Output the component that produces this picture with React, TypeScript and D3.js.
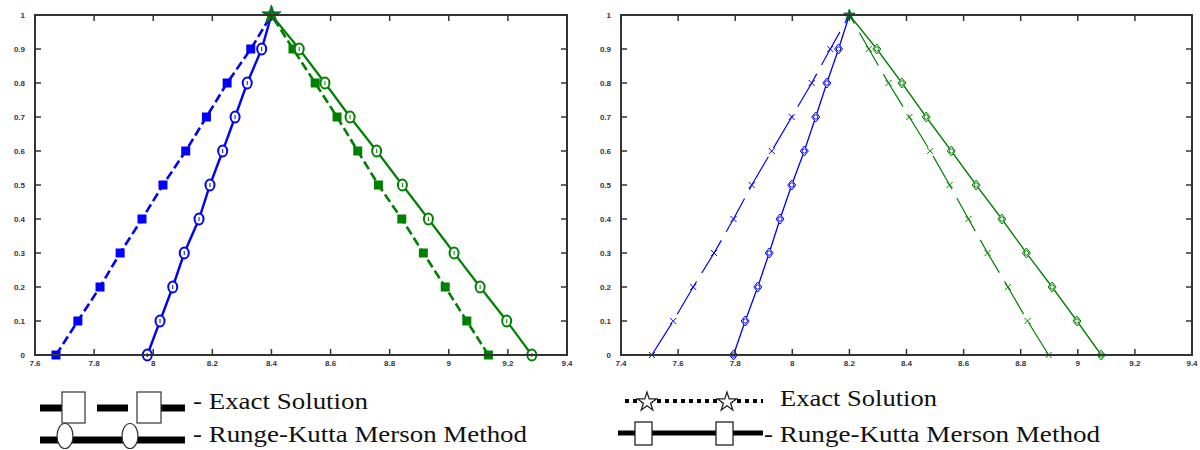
import * as d3 from 'd3'

// y levels shared by every curve (temperature / fraction axis)
const yLevels = [0, 0.1, 0.2, 0.3, 0.4, 0.5, 0.6, 0.7, 0.8, 0.9, 1]

// left panel, x values at each y level
const leftBlueExact = [7.671, 7.745, 7.82, 7.888, 7.962, 8.033, 8.11, 8.18, 8.25, 8.33, 8.4]
const leftBlueRK = [7.98, 8.023, 8.066, 8.105, 8.155, 8.192, 8.235, 8.277, 8.318, 8.367, 8.4]
const leftGreenExact = [9.134, 9.061, 8.988, 8.914, 8.841, 8.762, 8.692, 8.622, 8.548, 8.473, 8.4]
const leftGreenRK = [9.281, 9.196, 9.106, 9.018, 8.931, 8.843, 8.756, 8.666, 8.581, 8.494, 8.4]

// right panel
const rightBlueExact = [7.508, 7.583, 7.653, 7.726, 7.794, 7.858, 7.928, 7.998, 8.068, 8.133, 8.2]
const rightBlueRK = [7.794, 7.835, 7.879, 7.919, 7.957, 7.998, 8.042, 8.082, 8.121, 8.162, 8.2]
const rightGreenExact = [8.898, 8.824, 8.755, 8.684, 8.617, 8.551, 8.483, 8.41, 8.337, 8.268, 8.2]
const rightGreenRK = [9.082, 8.997, 8.91, 8.82, 8.734, 8.644, 8.557, 8.469, 8.384, 8.296, 8.2]

const leftDomain = [7.6, 9.4]
const rightDomain = [7.4, 9.4]

const legendLabels = ['Exact Solution', 'Runge-Kutta Merson Method']

const BLUE = '#0000ff'
const GREEN = '#008000'
const TOP = 15
const BOTTOM = 355

const fmt = d3.format('~g')

const Marker = ({ type, x, y, color }) => {
  if (type === 'square') {
    return <rect x={x - 4.5} y={y - 4.5} width={9} height={9} fill={color} />
  }
  if (type === 'circle') {
    return (
      <g>
        <ellipse cx={x} cy={y} rx={4.5} ry={5.5} fill="white" stroke={color} strokeWidth={2} />
        <line x1={x} y1={y - 2} x2={x} y2={y + 2} stroke={color} strokeWidth={1} />
      </g>
    )
  }
  if (type === 'cross') {
    return (
      <g stroke={color} strokeWidth={1}>
        <line x1={x - 3} y1={y - 3} x2={x + 3} y2={y + 3} />
        <line x1={x - 3} y1={y + 3} x2={x + 3} y2={y - 3} />
      </g>
    )
  }
  if (type === 'diamond') {
    return (
      <g fill="white" stroke={color} strokeWidth={1}>
        <path d={`M${x},${y - 5}L${x + 4},${y}L${x},${y + 5}L${x - 4},${y}Z`} />
        <circle cx={x} cy={y} r={2.2} />
      </g>
    )
  }
  return null
}

const Panel = ({ x0, x1, domain, series, peak }) => {
  const x = d3.scaleLinear().domain(domain).range([x0, x1])
  const y = d3.scaleLinear().domain([0, 1]).range([BOTTOM, TOP])
  const xTicks = x.ticks(10)
  const yTicks = y.ticks(10)
  const line = d3
    .line()
    .x((d) => x(d[0]))
    .y((d) => y(d[1]))

  return (
    <g>
      {series.map((s, i) => {
        const pts = s.values.map((v, j) => [v, yLevels[j]])
        return (
          <g key={i}>
            <path
              d={line(pts)}
              fill="none"
              stroke={s.color}
              strokeWidth={s.width}
              strokeDasharray={s.dash}
            />
            {pts.slice(0, -1).map((p, j) => (
              <Marker key={j} type={s.marker} x={x(p[0])} y={y(p[1])} color={s.color} />
            ))}
          </g>
        )
      })}
      <path
        d={d3.symbol(d3.symbolStar, peak.size)()}
        transform={`translate(${x(peak.x)},${y(1)})`}
        fill={GREEN}
        stroke="#063"
        strokeWidth={1}
      />
      <rect x={x0} y={TOP} width={x1 - x0} height={BOTTOM - TOP} fill="none" stroke="#333" strokeWidth={2} />
      {xTicks.map((t) => (
        <g key={'x' + t}>
          <line x1={x(t)} x2={x(t)} y1={BOTTOM} y2={BOTTOM - 6} stroke="#333" strokeWidth={1.5} />
          <line x1={x(t)} x2={x(t)} y1={TOP} y2={TOP + 6} stroke="#333" strokeWidth={1.5} />
          <text
            x={x(t)}
            y={BOTTOM + 11}
            textAnchor="middle"
            fontSize={8}
            fontWeight="bold"
            fontFamily="'Liberation Sans', Arial, sans-serif"
            fill="#334"
          >
            {fmt(t)}
          </text>
        </g>
      ))}
      {yTicks.map((t) => (
        <g key={'y' + t}>
          <line x1={x0} x2={x0 + 6} y1={y(t)} y2={y(t)} stroke="#333" strokeWidth={1.5} />
          <line x1={x1} x2={x1 - 6} y1={y(t)} y2={y(t)} stroke="#333" strokeWidth={1.5} />
          <text
            x={x0 - 10}
            y={y(t) + 3}
            textAnchor="end"
            fontSize={8}
            fontWeight="bold"
            fontFamily="'Liberation Sans', Arial, sans-serif"
            fill="#334"
          >
            {fmt(t)}
          </text>
        </g>
      ))}
    </g>
  )
}

const legendText = {
  fontFamily: "'Liberation Serif', 'Times New Roman', serif",
  fontSize: 24,
  fill: '#111',
}

export default function App() {
  const leftSeries = [
    { values: leftBlueExact, color: BLUE, width: 2.6, dash: '9,4', marker: 'square' },
    { values: leftBlueRK, color: BLUE, width: 2.4, dash: null, marker: 'circle' },
    { values: leftGreenExact, color: GREEN, width: 2.6, dash: '9,4', marker: 'square' },
    { values: leftGreenRK, color: GREEN, width: 2.2, dash: null, marker: 'circle' },
  ]
  const rightSeries = [
    { values: rightBlueExact, color: BLUE, width: 1.2, dash: '38,10', marker: 'cross' },
    { values: rightBlueRK, color: BLUE, width: 1.3, dash: null, marker: 'diamond' },
    { values: rightGreenExact, color: GREEN, width: 1.2, dash: '38,10', marker: 'cross' },
    { values: rightGreenRK, color: GREEN, width: 1.3, dash: null, marker: 'diamond' },
  ]

  return (
    <svg
      width={1200}
      height={450}
      style={{ position: 'absolute', left: 0, top: 0, background: 'white' }}
    >
      <Panel x0={35} x1={567} domain={leftDomain} series={leftSeries} peak={{ x: 8.4, size: 110 }} />
      <Panel x0={621} x1={1192} domain={rightDomain} series={rightSeries} peak={{ x: 8.2, size: 40 }} />

      {/* left legend */}
      <g>
        <g stroke="#000" strokeWidth={7}>
          <line x1={40} x2={62} y1={408} y2={408} />
          <line x1={97} x2={128} y1={408} y2={408} />
          <line x1={161} x2={185} y1={408} y2={408} />
          <line x1={40} x2={185} y1={440} y2={440} />
        </g>
        <rect x={62} y={392} width={23} height={31} fill="white" stroke="#333" strokeWidth={1.2} />
        <rect x={137} y={392} width={24} height={31} fill="white" stroke="#333" strokeWidth={1.2} />
        <ellipse cx={65} cy={436} rx={8} ry={12.5} fill="white" stroke="#333" strokeWidth={1.2} />
        <ellipse cx={130} cy={436} rx={8} ry={12.5} fill="white" stroke="#333" strokeWidth={1.2} />
        <text x={193} y={409} {...legendText} textLength={175} lengthAdjust="spacingAndGlyphs">
          {'- ' + legendLabels[0]}
        </text>
        <text x={193} y={442} {...legendText} textLength={334} lengthAdjust="spacingAndGlyphs">
          {'- ' + legendLabels[1]}
        </text>
      </g>

      {/* right legend */}
      <g>
        <line x1={625} x2={763} y1={401} y2={401} stroke="#000" strokeWidth={4} strokeDasharray="4,4" />
        {[647, 727].map((cx) => (
          <path
            key={cx}
            d={d3.symbol(d3.symbolStar, 110)()}
            transform={`translate(${cx},${402})`}
            fill="white"
            stroke="#222"
            strokeWidth={1.3}
          />
        ))}
        <line x1={618} x2={763} y1={433} y2={433} stroke="#000" strokeWidth={5} />
        <rect x={635} y={422} width={17} height={23} fill="white" stroke="#222" strokeWidth={1.3} />
        <rect x={716} y={422} width={17} height={23} fill="white" stroke="#222" strokeWidth={1.3} />
        <text x={780} y={406} {...legendText} textLength={157} lengthAdjust="spacingAndGlyphs">
          {legendLabels[0]}
        </text>
        <text x={764} y={442} {...legendText} textLength={336} lengthAdjust="spacingAndGlyphs">
          {'- ' + legendLabels[1]}
        </text>
      </g>
    </svg>
  )
}
